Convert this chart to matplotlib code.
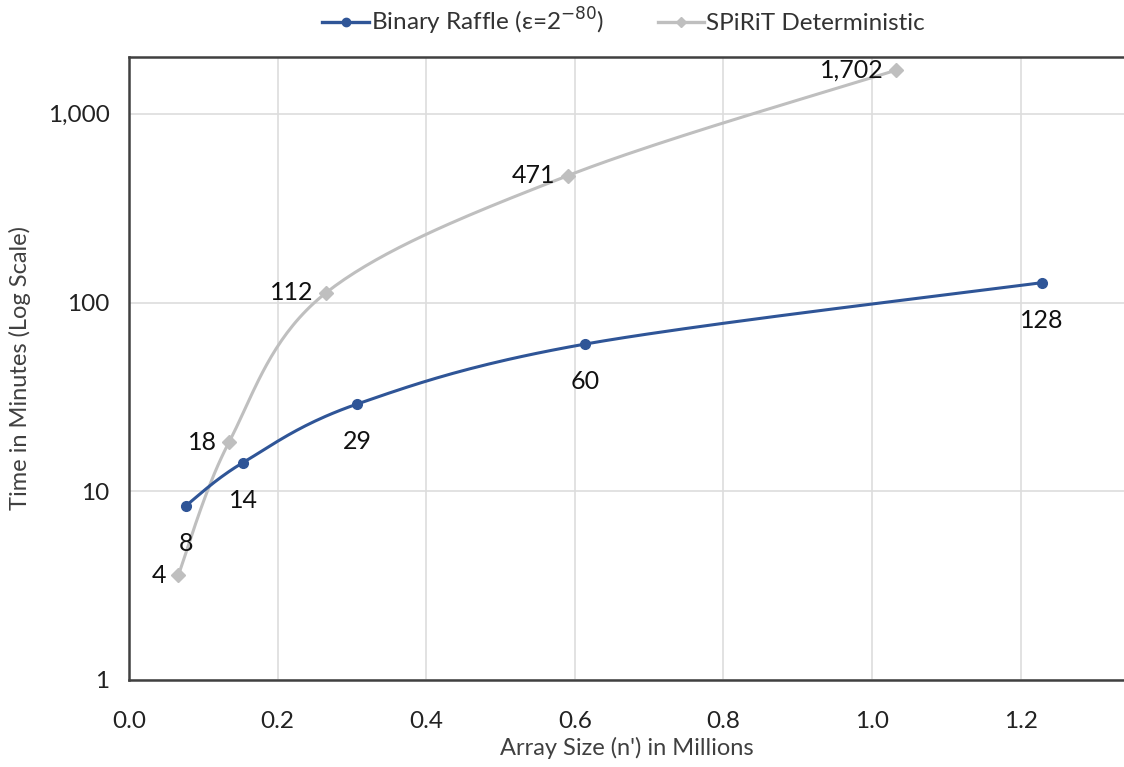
import numpy as np
import matplotlib
matplotlib.use("Agg")
import matplotlib.pyplot as plt
from matplotlib.ticker import FixedLocator, FuncFormatter

plt.rcParams['font.family'] = ['Lato', 'DejaVu Sans']

# array size in millions / time in minutes
raffle_x = [0.0768, 0.1536, 0.3072, 0.6144, 1.2288]
raffle_y = [8.4, 14.2, 29.0, 60.3, 127.5]
spirit_x = [0.0664, 0.1346, 0.2656, 0.591, 1.032]
spirit_y = [3.6, 18.2, 113.0, 471.0, 1702.0]

raffle_labels = ['8', '14', '29', '60', '128']
spirit_labels = ['4', '18', '112', '471', '1,702']

blue = '#2F5597'
gray = '#BFBFBF'

W, H = 1124, 767
fig = plt.figure(figsize=(W / 100, H / 100), dpi=100)
ax = fig.add_axes([129 / W, 1 - 680 / H, 1 - 129 / W, (680 - 57) / H])
ax.set_yscale('log')
ax.set_xlim(0, (W - 129) / 743)
ax.set_ylim(1, 2000)


def smooth(xs, ys):
    # excel-style smoothed line: catmull-rom bezier in display space
    pts = ax.transData.transform(np.column_stack([xs, ys]))
    out = [pts[0]]
    n = len(pts)
    t = np.linspace(0, 1, 40)[1:, None]
    for i in range(n - 1):
        p0 = pts[max(i - 1, 0)]
        p1 = pts[i]
        p2 = pts[i + 1]
        p3 = pts[min(i + 2, n - 1)]
        c1 = p1 + (p2 - p0) / 6
        c2 = p2 - (p3 - p1) / 6
        seg = ((1 - t) ** 3) * p1 + 3 * ((1 - t) ** 2) * t * c1 + 3 * (1 - t) * t ** 2 * c2 + t ** 3 * p2
        out.extend(seg)
    out = np.array(out)
    d = ax.transData.inverted().transform(out)
    return d[:, 0], d[:, 1]


sx, sy = smooth(raffle_x, raffle_y)
ax.plot(sx, sy, color=blue, lw=2.2, zorder=4)
ax.plot(raffle_x, raffle_y, 'o', color=blue, ms=7, zorder=5)
gx, gy = smooth(spirit_x, spirit_y)
ax.plot(gx, gy, color=gray, lw=2.2, zorder=3)
ax.plot(spirit_x, spirit_y, 'D', color=gray, ms=7, zorder=3)

# legend proxies
ax.plot([], [], '-o', color=blue, lw=2.4, ms=6, label=r'Binary Raffle (ε=2$^{-80}$)')
ax.plot([], [], '-D', color=gray, lw=2.4, ms=5, label='SPiRiT Deterministic')
handles, labels = ax.get_legend_handles_labels()
fig.legend(handles, labels, loc='center', bbox_to_anchor=(0.555, 1 - 21 / H), ncol=2,
           frameon=False, fontsize=17.5, handlelength=1.9, handletextpad=0.1,
           columnspacing=2.2, labelcolor='#333333')

for x, y, s in zip(raffle_x, raffle_y, raffle_labels):
    ax.annotate(s, (x, y), xytext=(0, -27), textcoords='offset points',
                ha='center', va='center', fontsize=18, color='#111111')
for x, y, s in zip(spirit_x, spirit_y, spirit_labels):
    ax.annotate(s, (x, y), xytext=(-9, 0), textcoords='offset points',
                ha='right', va='center', fontsize=18, color='#111111')

ax.yaxis.set_major_locator(FixedLocator([1, 10, 100, 1000]))
ax.yaxis.set_minor_locator(FixedLocator([]))
ax.yaxis.set_major_formatter(FuncFormatter(lambda v, p: f'{v:,.0f}'))
ax.set_xticks([0, 0.2, 0.4, 0.6, 0.8, 1.0, 1.2])
ax.xaxis.set_major_formatter(FuncFormatter(lambda v, p: f'{v:.1f}'))
ax.tick_params(axis='y', length=0, labelsize=17.5, labelcolor='#222222', pad=14)
ax.tick_params(axis='x', length=0, labelsize=17.5, labelcolor='#222222', pad=22)
ax.grid(True, color='#DDDDDD', lw=1.2)
ax.set_axisbelow(True)
for side in ['left', 'bottom', 'top']:
    ax.spines[side].set_color('#404040')
    ax.spines[side].set_linewidth(1.8)
ax.spines['right'].set_visible(False)

ax.set_xlabel('Array Size (n\') in Millions', fontsize=17, color='#404040', labelpad=4)
ax.set_ylabel('Time in Minutes (Log Scale)', fontsize=17, color='#404040', labelpad=12)

fig.savefig('out.png', dpi=100)
